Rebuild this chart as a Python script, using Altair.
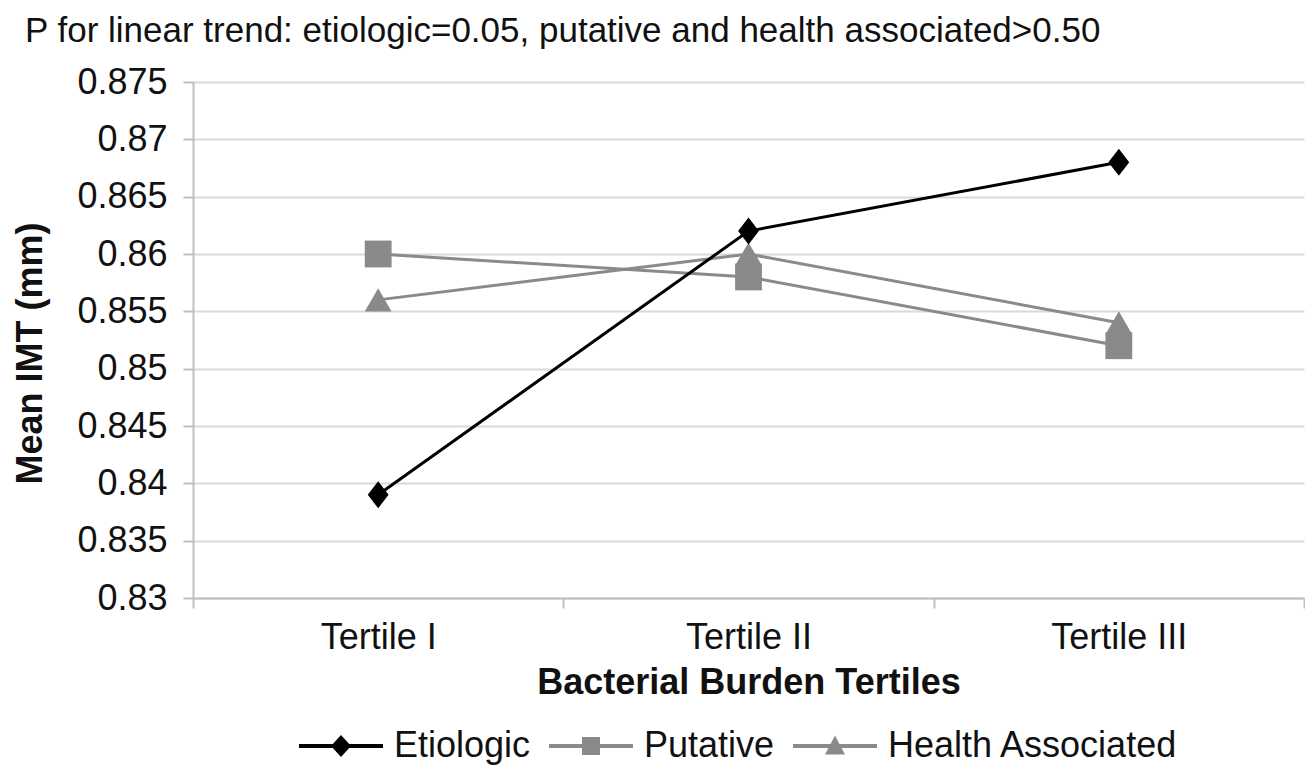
import altair as alt
import pandas as pd

# ---- data ----
categories = ["Tertile I", "Tertile II", "Tertile III"]
series_names = ["Etiologic", "Putative", "Health Associated"]
etiologic = [0.839, 0.862, 0.868]
putative = [0.860, 0.858, 0.852]
health_associated = [0.856, 0.860, 0.854]
y_ticks = [0.83, 0.835, 0.84, 0.845, 0.85, 0.855, 0.86, 0.865, 0.87, 0.875]

title_text = "P for linear trend: etiologic=0.05, putative and health associated>0.50"
x_title = "Bacterial Burden Tertiles"
y_title = "Mean IMT (mm)"

# ---- styles ----
FONT = "Liberation Sans"
series_colors = ["#000000", "#8a8a8a", "#8a8a8a"]
plot_shapes = ["M0,-1.1L0.85,0L0,1.1L-0.85,0Z", "square", "triangle-up"]
legend_shapes = [
    "M-8.4,-0.4H8.4V0.4H-8.4Z M0,-2.2L2,0L0,2.2L-2,0Z",
    "M-8.4,-0.4H8.4V0.4H-8.4Z M-1.8,-1.8H1.8V1.8H-1.8Z",
    "M-8.4,-0.4H8.4V0.4H-8.4Z M0,-2.1L2,1.7H-2Z",
]

rows = []
for name, vals in zip(series_names, [etiologic, putative, health_associated]):
    for c, v in zip(categories, vals):
        rows.append({"tertile": c, "series": name, "imt": v})
df = pd.DataFrame(rows)

x_enc = alt.X(
    "tertile:N",
    sort=categories,
    scale=alt.Scale(type="band", domain=categories, paddingInner=0, paddingOuter=0),
    axis=alt.Axis(
        title=x_title,
        labelAngle=0,
        grid=False,
        tickBand="extent",
        titleFontWeight="bold",
        titleFontSize=36,
        titleY=84,
        titleBaseline="middle",
        labelPadding=12,
    ),
)
y_enc = alt.Y(
    "imt:Q",
    scale=alt.Scale(domain=[0.83, 0.875], nice=False, zero=False),
    axis=alt.Axis(
        title=y_title,
        values=y_ticks,
        format=".3~f",
        titleFontWeight="bold",
        titleFontSize=36,
        titleX=-163,
        titleY=271,
        titleAlign="center",
        titleBaseline="middle",
        labelPadding=16,
    ),
)
color_scale = alt.Scale(domain=series_names, range=series_colors)

base = alt.Chart(df).encode(x=x_enc, y=y_enc)


def line_layer(names):
    return (
        base.transform_filter(alt.FieldOneOfPredicate(field="series", oneOf=names))
        .mark_line(strokeWidth=3)
        .encode(
            color=alt.Color("series:N", scale=color_scale, legend=None),
            detail="series:N",
        )
    )


def point_layer(name, shape, size):
    return (
        base.transform_filter(alt.datum.series == name)
        .mark_point(filled=True, opacity=1, size=size, strokeWidth=0, shape=shape)
        .encode(color=alt.Color("series:N", scale=color_scale, legend=None))
    )


legend_common = dict(
    title=None,
    orient="none",
    direction="horizontal",
    legendX=93,
    legendY=646,
    symbolSize=100,
    symbolOffset=37,
    labelOffset=35,
    columnPadding=5,
    labelFont=FONT,
    labelFontSize=36,
    labelColor="#111111",
    labelLimit=500,
    symbolOpacity=1,
    symbolStrokeWidth=0,
)

legend_layer = (
    base.transform_filter("false")
    .mark_point(filled=True, opacity=1, strokeWidth=0)
    .encode(
        color=alt.Color("series:N", scale=color_scale, legend=alt.Legend(**legend_common)),
        shape=alt.Shape(
            "series:N",
            scale=alt.Scale(domain=series_names, range=legend_shapes),
            legend=alt.Legend(**legend_common),
        ),
    )
)

chart = (
    alt.layer(
        legend_layer,
        line_layer(["Putative", "Health Associated"]),
        point_layer("Putative", plot_shapes[1], 720),
        point_layer("Health Associated", plot_shapes[2], 720),
        line_layer(["Etiologic"]),
        point_layer("Etiologic", plot_shapes[0], 600),
    )
    .properties(
        width=1111,
        height=516,
        autosize=alt.AutoSizeParams(type="none"),
        padding={"left": 185, "top": 74, "right": 1, "bottom": 170},
        title=alt.TitleParams(
            text=title_text,
            anchor="start",
            frame="group",
            dx=-168,
            dy=-11,
            font=FONT,
            fontSize=35,
            fontWeight="normal",
            color="#111111",
        ),
    )
    .configure_view(strokeWidth=0)
    .configure_axis(
        labelFont=FONT,
        titleFont=FONT,
        labelFontSize=36,
        labelColor="#111111",
        titleColor="#111111",
        domainColor="#bfbfbf",
        domainWidth=2,
        tickColor="#bfbfbf",
        tickWidth=2,
        tickSize=10,
        gridColor="#d9d9d9",
        gridWidth=2,
    )
)

chart.save("out.html", embed_options={"renderer": "svg", "actions": False})
